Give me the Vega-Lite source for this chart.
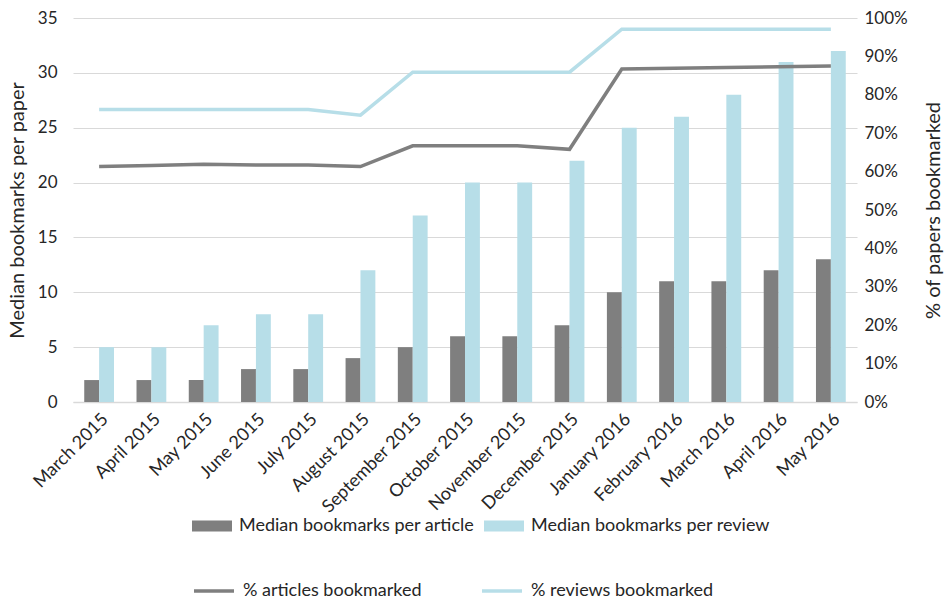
{
  "$schema": "https://vega.github.io/schema/vega-lite/v6.json",
  "width": 784,
  "height": 384,
  "padding": {"left": 7, "top": 9, "right": 2, "bottom": 0},
  "background": "white",
  "config": {
    "font": "Lato",
    "view": {"stroke": null},
    "axis": {"labelColor": "#262626", "titleColor": "#262626", "labelFontSize": 17, "titleFontSize": 20, "titleFontWeight": "normal", "ticks": false, "domain": false, "gridColor": "#d9d9d9", "gridWidth": 1}
  },
  "data": {"values": [
    {"month": "March 2015", "series": "Median bookmarks per article", "value": 2},
    {"month": "April 2015", "series": "Median bookmarks per article", "value": 2},
    {"month": "May 2015", "series": "Median bookmarks per article", "value": 2},
    {"month": "June 2015", "series": "Median bookmarks per article", "value": 3},
    {"month": "July 2015", "series": "Median bookmarks per article", "value": 3},
    {"month": "August 2015", "series": "Median bookmarks per article", "value": 4},
    {"month": "September 2015", "series": "Median bookmarks per article", "value": 5},
    {"month": "October 2015", "series": "Median bookmarks per article", "value": 6},
    {"month": "November 2015", "series": "Median bookmarks per article", "value": 6},
    {"month": "December 2015", "series": "Median bookmarks per article", "value": 7},
    {"month": "January 2016", "series": "Median bookmarks per article", "value": 10},
    {"month": "February 2016", "series": "Median bookmarks per article", "value": 11},
    {"month": "March 2016", "series": "Median bookmarks per article", "value": 11},
    {"month": "April 2016", "series": "Median bookmarks per article", "value": 12},
    {"month": "May 2016", "series": "Median bookmarks per article", "value": 13},
    {"month": "March 2015", "series": "Median bookmarks per review", "value": 5},
    {"month": "April 2015", "series": "Median bookmarks per review", "value": 5},
    {"month": "May 2015", "series": "Median bookmarks per review", "value": 7},
    {"month": "June 2015", "series": "Median bookmarks per review", "value": 8},
    {"month": "July 2015", "series": "Median bookmarks per review", "value": 8},
    {"month": "August 2015", "series": "Median bookmarks per review", "value": 12},
    {"month": "September 2015", "series": "Median bookmarks per review", "value": 17},
    {"month": "October 2015", "series": "Median bookmarks per review", "value": 20},
    {"month": "November 2015", "series": "Median bookmarks per review", "value": 20},
    {"month": "December 2015", "series": "Median bookmarks per review", "value": 22},
    {"month": "January 2016", "series": "Median bookmarks per review", "value": 25},
    {"month": "February 2016", "series": "Median bookmarks per review", "value": 26},
    {"month": "March 2016", "series": "Median bookmarks per review", "value": 28},
    {"month": "April 2016", "series": "Median bookmarks per review", "value": 31},
    {"month": "May 2016", "series": "Median bookmarks per review", "value": 32},
    {"month": "March 2015", "series": "% articles bookmarked", "value": 0.613},
    {"month": "April 2015", "series": "% articles bookmarked", "value": 0.616},
    {"month": "May 2015", "series": "% articles bookmarked", "value": 0.619},
    {"month": "June 2015", "series": "% articles bookmarked", "value": 0.617},
    {"month": "July 2015", "series": "% articles bookmarked", "value": 0.617},
    {"month": "August 2015", "series": "% articles bookmarked", "value": 0.613},
    {"month": "September 2015", "series": "% articles bookmarked", "value": 0.667},
    {"month": "October 2015", "series": "% articles bookmarked", "value": 0.667},
    {"month": "November 2015", "series": "% articles bookmarked", "value": 0.667},
    {"month": "December 2015", "series": "% articles bookmarked", "value": 0.658},
    {"month": "January 2016", "series": "% articles bookmarked", "value": 0.867},
    {"month": "February 2016", "series": "% articles bookmarked", "value": 0.869},
    {"month": "March 2016", "series": "% articles bookmarked", "value": 0.871},
    {"month": "April 2016", "series": "% articles bookmarked", "value": 0.873},
    {"month": "May 2016", "series": "% articles bookmarked", "value": 0.875},
    {"month": "March 2015", "series": "% reviews bookmarked", "value": 0.762},
    {"month": "April 2015", "series": "% reviews bookmarked", "value": 0.762},
    {"month": "May 2015", "series": "% reviews bookmarked", "value": 0.762},
    {"month": "June 2015", "series": "% reviews bookmarked", "value": 0.762},
    {"month": "July 2015", "series": "% reviews bookmarked", "value": 0.762},
    {"month": "August 2015", "series": "% reviews bookmarked", "value": 0.747},
    {"month": "September 2015", "series": "% reviews bookmarked", "value": 0.859},
    {"month": "October 2015", "series": "% reviews bookmarked", "value": 0.859},
    {"month": "November 2015", "series": "% reviews bookmarked", "value": 0.859},
    {"month": "December 2015", "series": "% reviews bookmarked", "value": 0.859},
    {"month": "January 2016", "series": "% reviews bookmarked", "value": 0.971},
    {"month": "February 2016", "series": "% reviews bookmarked", "value": 0.971},
    {"month": "March 2016", "series": "% reviews bookmarked", "value": 0.971},
    {"month": "April 2016", "series": "% reviews bookmarked", "value": 0.971},
    {"month": "May 2016", "series": "% reviews bookmarked", "value": 0.971}
  ]},
  "encoding": {
    "x": {
      "field": "month", "type": "nominal",
      "sort": ["March 2015","April 2015","May 2015","June 2015","July 2015","August 2015","September 2015","October 2015","November 2015","December 2015","January 2016","February 2016","March 2016","April 2016","May 2016"],
      "scale": {"paddingInner": 0.43, "paddingOuter": 0.215},
      "axis": {"title": null, "labelAngle": -45, "labelAlign": "right", "labelBaseline": "top", "labelPadding": 8, "labelFontSize": 18, "domain": true, "domainColor": "#d9d9d9", "domainWidth": 1.5, "grid": false}
    }
  },
  "layer": [
    {
      "transform": [{"filter": "indexof(datum.series, 'Median') == 0"}],
      "mark": {"type": "bar"},
      "encoding": {
        "y": {"field": "value", "type": "quantitative", "scale": {"domain": [0, 35]},
              "axis": {"title": "Median bookmarks per paper", "values": [0,5,10,15,20,25,30,35], "labelPadding": 16, "titlePadding": 10, "grid": true}},
        "xOffset": {"field": "series", "type": "nominal", "sort": ["Median bookmarks per article", "Median bookmarks per review"]},
        "fill": {
          "field": "series", "type": "nominal",
          "scale": {"domain": ["Median bookmarks per article", "Median bookmarks per review"], "range": ["#7f7f7f", "#b7dee8"]},
          "legend": {
            "title": null, "orient": "none", "legendX": 119, "legendY": 488,
            "direction": "horizontal", "columns": 2, "padding": 0,
            "columnPadding": 9, "labelOffset": 7, "labelLimit": 500,
            "labelFontSize": 18, "labelColor": "#262626",
            "symbolType": "M-1,-0.27H1V0.27H-1Z", "symbolSize": 1600, "symbolStrokeWidth": 0
          }
        }
      }
    },
    {
      "transform": [{"filter": "indexof(datum.series, '%') == 0"}],
      "mark": {"type": "line", "strokeWidth": 3.5},
      "encoding": {
        "y": {"field": "value", "type": "quantitative", "scale": {"domain": [0, 1]},
              "axis": {"orient": "right", "title": "% of papers bookmarked", "titleAngle": 270, "format": ".0%", "values": [0,0.1,0.2,0.3,0.4,0.5,0.6,0.7,0.8,0.9,1], "labelPadding": 7, "titlePadding": 36, "grid": false}},
        "stroke": {
          "field": "series", "type": "nominal",
          "scale": {"domain": ["% articles bookmarked", "% reviews bookmarked"], "range": ["#7f7f7f", "#b7dee8"]},
          "legend": {
            "title": null, "orient": "none", "legendX": 119, "legendY": 551,
            "direction": "horizontal", "columns": 2, "padding": 0,
            "columnPadding": 53, "labelOffset": 7, "labelLimit": 500,
            "labelFontSize": 18, "labelColor": "#262626",
            "symbolType": "stroke", "symbolSize": 1600, "symbolStrokeWidth": 3.5
          }
        }
      }
    }
  ],
  "resolve": {"scale": {"y": "independent"}}
}
